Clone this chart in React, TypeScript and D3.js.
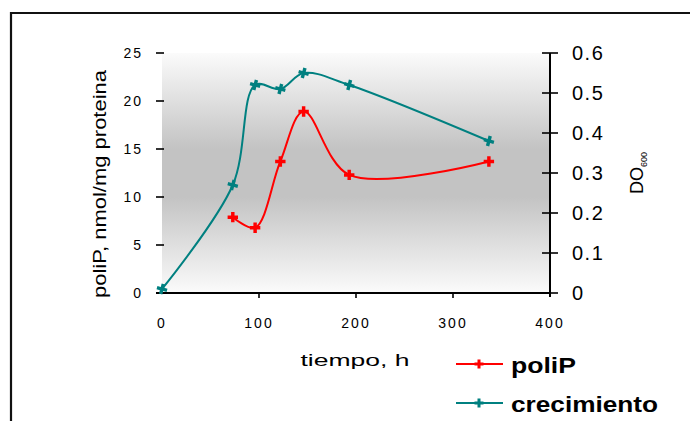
import React from "react";
import * as d3 from "d3";

// Sampling times (h)
const tiempoPoliP = [73, 96, 122, 146, 193, 337];
const tiempoCrec = [0, 73, 96, 122, 146, 193, 337];
// poliP content, nmol/mg proteina
const poliP = [7.9, 6.8, 13.7, 18.9, 12.3, 13.7];
// Growth, optical density
const crecimiento = [0.01, 0.27, 0.52, 0.51, 0.55, 0.52, 0.38];

const xTicks = [0, 100, 200, 300, 400];
const yLeftTicks = [0, 5, 10, 15, 20, 25];
const yRightTicks = [0, 0.1, 0.2, 0.3, 0.4, 0.5, 0.6];

const W = 690;
const H = 421;
const RED = "#ff0000";
const TEAL = "#008080";

export default function App() {
  const x = d3.scaleLinear().domain([0, 400]).range([162, 550]);
  const yL = d3.scaleLinear().domain([0, 25]).range([293, 53]);
  const yR = d3.scaleLinear().domain([0, 0.6]).range([293, 53]);

  const linePoliP = d3
    .line<number>()
    .x((_, i) => x(tiempoPoliP[i]))
    .y((d) => yL(d))
    .curve(d3.curveCatmullRom.alpha(0.5));
  const lineCrec = d3
    .line<number>()
    .x((_, i) => x(tiempoCrec[i]))
    .y((d) => yR(d))
    .curve(d3.curveCatmullRom.alpha(0.5));

  const cross = d3.symbol().type(d3.symbolCross).size(60)() as string;
  const crossSmall = d3.symbol().type(d3.symbolCross).size(45)() as string;

  const font = "Arial, 'Liberation Sans', sans-serif";
  const [x0, x1] = x.range();
  const [yb, yt] = yL.range();

  return (
    <svg
      width={W}
      height={H}
      style={{ position: "absolute", left: 0, top: 0, background: "#fff" }}
      fontFamily={font}
    >
      <defs>
        <linearGradient id="plotBg" x1="0" y1="0" x2="0" y2="1">
          <stop offset="0%" stopColor="#fbfbfb" />
          <stop offset="40%" stopColor="#c3c3c3" />
          <stop offset="60%" stopColor="#c3c3c3" />
          <stop offset="100%" stopColor="#fbfbfb" />
        </linearGradient>
      </defs>

      {/* outer chart frame */}
      <path d={`M11,${H + 5} L11,13 L${W + 5},13`} fill="none" stroke="#111" strokeWidth={2.2} />

      {/* plot area */}
      <rect x={x0} y={yt} width={x1 - x0} height={yb - yt} fill="url(#plotBg)" />

      {/* left axis ticks and labels */}
      {yLeftTicks.map((t) => (
        <g key={`l${t}`}>
          <line x1={156} x2={164} y1={yL(t)} y2={yL(t)} stroke="#000" strokeWidth={1.6} />
          <text
            x={143}
            y={yL(t)}
            dy="0.36em"
            textAnchor="end"
            fontSize={14}
            letterSpacing={2}
            fill="#000"
          >
            {t}
          </text>
        </g>
      ))}

      {/* bottom axis */}
      <line x1={x0 - 6} x2={x1} y1={yb} y2={yb} stroke="#000" strokeWidth={2} />
      {xTicks.map((t) => (
        <g key={`b${t}`}>
          {t > 0 && t < 400 && (
            <line x1={x(t)} x2={x(t)} y1={yb} y2={yb + 5} stroke="#000" strokeWidth={1.6} />
          )}
          <text
            x={x(t)}
            y={323}
            dy="0.36em"
            textAnchor="middle"
            fontSize={14}
            letterSpacing={2}
            fill="#000"
          >
            {t}
          </text>
        </g>
      ))}

      {/* right axis */}
      <line x1={x1} x2={x1} y1={yR(0.6)} y2={yR(0) + 4} stroke="#000" strokeWidth={2} />
      {yRightTicks.map((t) => (
        <g key={`r${t}`}>
          <line x1={x1 - 8} x2={x1 + 8} y1={yR(t)} y2={yR(t)} stroke="#000" strokeWidth={1.6} />
          <text
            x={572}
            y={yR(t)}
            dy="0.36em"
            textAnchor="start"
            fontSize={20}
            letterSpacing={1.5}
            fill="#000"
          >
            {t === 0 ? "0" : t.toFixed(1)}
          </text>
        </g>
      ))}

      {/* series */}
      <path d={lineCrec(crecimiento) ?? ""} fill="none" stroke={TEAL} strokeWidth={2} />
      <path d={linePoliP(poliP) ?? ""} fill="none" stroke={RED} strokeWidth={2} />
      {crecimiento.map((v, i) => (
        <path
          key={`mc${i}`}
          d={cross}
          transform={`translate(${x(tiempoCrec[i])},${yR(v)}) rotate(15)`}
          fill={TEAL}
        />
      ))}
      {poliP.map((v, i) => (
        <path
          key={`mp${i}`}
          d={cross}
          transform={`translate(${x(tiempoPoliP[i])},${yL(v)})`}
          fill={RED}
        />
      ))}

      {/* axis titles */}
      <text
        transform={`translate(100,184) rotate(-90)`}
        textAnchor="middle"
        dy="0.35em"
        fontSize={18}
        textLength={228}
        lengthAdjust="spacingAndGlyphs"
        fill="#000"
      >
        poliP, nmol/mg proteina
      </text>
      <text
        transform={`translate(637,173) rotate(-90)`}
        textAnchor="middle"
        dy="0.35em"
        fontSize={18}
        fill="#000"
      >
        DO
        <tspan fontSize={9} dy="0.45em">600</tspan>
      </text>
      <text
        x={355}
        y={360}
        dy="0.35em"
        textAnchor="middle"
        fontSize={17}
        textLength={109}
        lengthAdjust="spacingAndGlyphs"
        fill="#000"
      >
        tiempo, h
      </text>

      {/* legend */}
      <g>
        <line x1={456} x2={503} y1={364} y2={364} stroke={RED} strokeWidth={2} />
        <path d={crossSmall} transform="translate(479,364)" fill={RED} />
        <text
          x={511}
          y={365}
          dy="0.35em"
          fontSize={22}
          fontWeight="bold"
          textLength={65}
          lengthAdjust="spacingAndGlyphs"
          fill="#000"
        >
          poliP
        </text>
        <line x1={456} x2={503} y1={403} y2={403} stroke={TEAL} strokeWidth={2} />
        <path d={crossSmall} transform="translate(479,403)" fill={TEAL} />
        <text
          x={511}
          y={404}
          dy="0.35em"
          fontSize={22}
          fontWeight="bold"
          textLength={147}
          lengthAdjust="spacingAndGlyphs"
          fill="#000"
        >
          crecimiento
        </text>
      </g>
    </svg>
  );
}
